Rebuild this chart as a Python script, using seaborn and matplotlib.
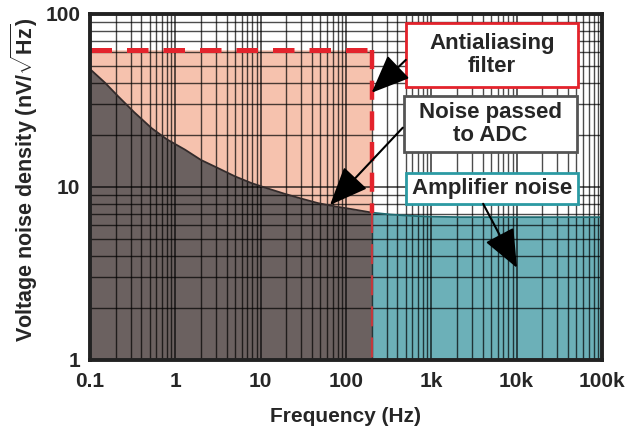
import numpy as np
import pandas as pd
import seaborn as sns
import matplotlib.pyplot as plt
from matplotlib.patches import Rectangle
from matplotlib.ticker import FixedLocator, LogLocator, NullFormatter

# noise density
freq = [0.1, 0.15, 0.215, 0.33, 0.53, 0.8, 1.3, 2.0, 3.2, 5.0, 7.85, 12, 19.3, 30, 47, 75, 117, 200,
        330, 560, 1000, 2200, 100000]
noise = [48, 40, 33.3, 27, 21.8, 18.8, 16.4, 14.3, 12.8, 11.5, 10.5, 9.8, 9.1, 8.55, 8.05, 7.7,
         7.43, 7.1, 6.92, 6.8, 6.72, 6.68, 6.68]
cutoff = 200
filter_level = 62

xticks = [0.1, 1, 10, 100, 1000, 10000, 100000]
xlabels = ["0.1", "1", "10", "100", "1k", "10k", "100k"]
yticks = [1, 10, 100]
ylabels = ["1", "10", "100"]

sns.set_style("white")
plt.rcParams["font.family"] = ["Liberation Sans", "DejaVu Sans"]
plt.rcParams["font.weight"] = "bold"
plt.rcParams["mathtext.fontset"] = "custom"
plt.rcParams["mathtext.rm"] = "Liberation Sans:bold"
plt.rcParams["mathtext.bf"] = "Liberation Sans:bold"

RED = "#e3232c"
df = pd.DataFrame({"freq": freq, "noise": noise})
low = df[df.freq <= cutoff]
high = df[df.freq >= cutoff]

fig = plt.figure(figsize=(6.29, 4.34), dpi=100)
ax = fig.add_axes([0.143, 0.171, 0.814, 0.797])
ax.set_xscale("log")
ax.set_yscale("log")

# fills
ax.fill_between(low.freq, low.noise, filter_level, color="#f6c2ae", zorder=1, lw=0)
ax.fill_between(low.freq, 1, low.noise, color="#6b6160", zorder=1, lw=0)
ax.fill_between(high.freq, 1, high.noise, color="#6cb0b8", zorder=1, lw=0)
sns.lineplot(data=low, x="freq", y="noise", ax=ax, color="#332b2b", lw=1.3, zorder=3)
sns.lineplot(data=high, x="freq", y="noise", ax=ax, color="#1f6a70", lw=1.3, zorder=3)

# antialiasing filter outline
ax.plot([0.1, cutoff], [filter_level, filter_level], color=RED, lw=3.6,
        dashes=(4.3, 3.0), zorder=4)
ax.plot([cutoff, cutoff], [filter_level, low.noise.iloc[-1]], color=RED, lw=3.2,
        dashes=(4.3, 2.6), zorder=4)
ax.plot([cutoff, cutoff], [low.noise.iloc[-1], 1], color="#c0393d", lw=1.6,
        dashes=(9, 5), zorder=4)

ax.set_xlim(0.1, 100000)
ax.set_ylim(1, 100)
ax.xaxis.set_major_locator(FixedLocator(xticks))
ax.set_xticklabels(xlabels)
ax.yaxis.set_major_locator(FixedLocator(yticks))
ax.set_yticklabels(ylabels)
ax.xaxis.set_minor_locator(LogLocator(base=10, subs=np.arange(2, 10)))
ax.yaxis.set_minor_locator(LogLocator(base=10, subs=np.arange(2, 10)))
ax.xaxis.set_minor_formatter(NullFormatter())
ax.yaxis.set_minor_formatter(NullFormatter())
ax.set_axisbelow(False)
ax.grid(which="major", color="black", lw=1.1, alpha=0.8)
ax.grid(which="minor", color="black", lw=1.0, alpha=0.7)
ax.tick_params(which="both", length=0, labelsize=15)
ax.tick_params(axis="x", pad=9)
ax.tick_params(axis="y", pad=7)

for s in ax.spines.values():
    s.set_linewidth(2.8)
    s.set_color("#222222")
    s.set_zorder(6)

ax.set_xlabel("Frequency (Hz)", fontsize=15, fontweight="bold", va="center")
ax.xaxis.set_label_coords(0.5, -0.165)
ax.set_ylabel(r"Voltage noise density (nV/$\sqrt{\mathrm{Hz}}$)", fontsize=15.5,
              fontweight="bold", va="center")
ax.yaxis.set_label_coords(-0.128, 0.52)

# callout boxes (axes fraction)
boxes = [
    ("Antialiasing\nfilter", (0.617, 0.789, 0.336, 0.185), RED),
    ("Noise passed\nto ADC", (0.613, 0.601, 0.338, 0.162), "#555555"),
    ("Amplifier noise", (0.617, 0.451, 0.336, 0.089), "#2b9aa3"),
]
for label, (x0, y0, w, h), ec in boxes:
    ax.add_patch(Rectangle((x0, y0), w, h, transform=ax.transAxes, fc="white",
                           ec=ec, lw=2, zorder=8, clip_on=False))
    ax.text(x0 + w / 2, y0 + h / 2, label, transform=ax.transAxes, ha="center",
            va="center", fontsize=16, fontweight="bold", linespacing=1.15, zorder=9)

arrow = dict(arrowstyle="-|>,head_length=1.2,head_width=0.5", color="black", lw=1.5,
             shrinkA=0, shrinkB=0, mutation_scale=20)
ax.annotate("", xy=(cutoff, 35), xycoords="data", xytext=(0.617, 0.867),
            textcoords="axes fraction", arrowprops=arrow, zorder=9)
ax.annotate("", xy=(65, 7.85), xycoords="data", xytext=(0.611, 0.671),
            textcoords="axes fraction", arrowprops=arrow, zorder=9)
ax.annotate("", xy=(10100, 3.4), xycoords="data", xytext=(0.768, 0.451),
            textcoords="axes fraction", arrowprops=arrow, zorder=9)

fig.savefig("out.png", dpi=100)
